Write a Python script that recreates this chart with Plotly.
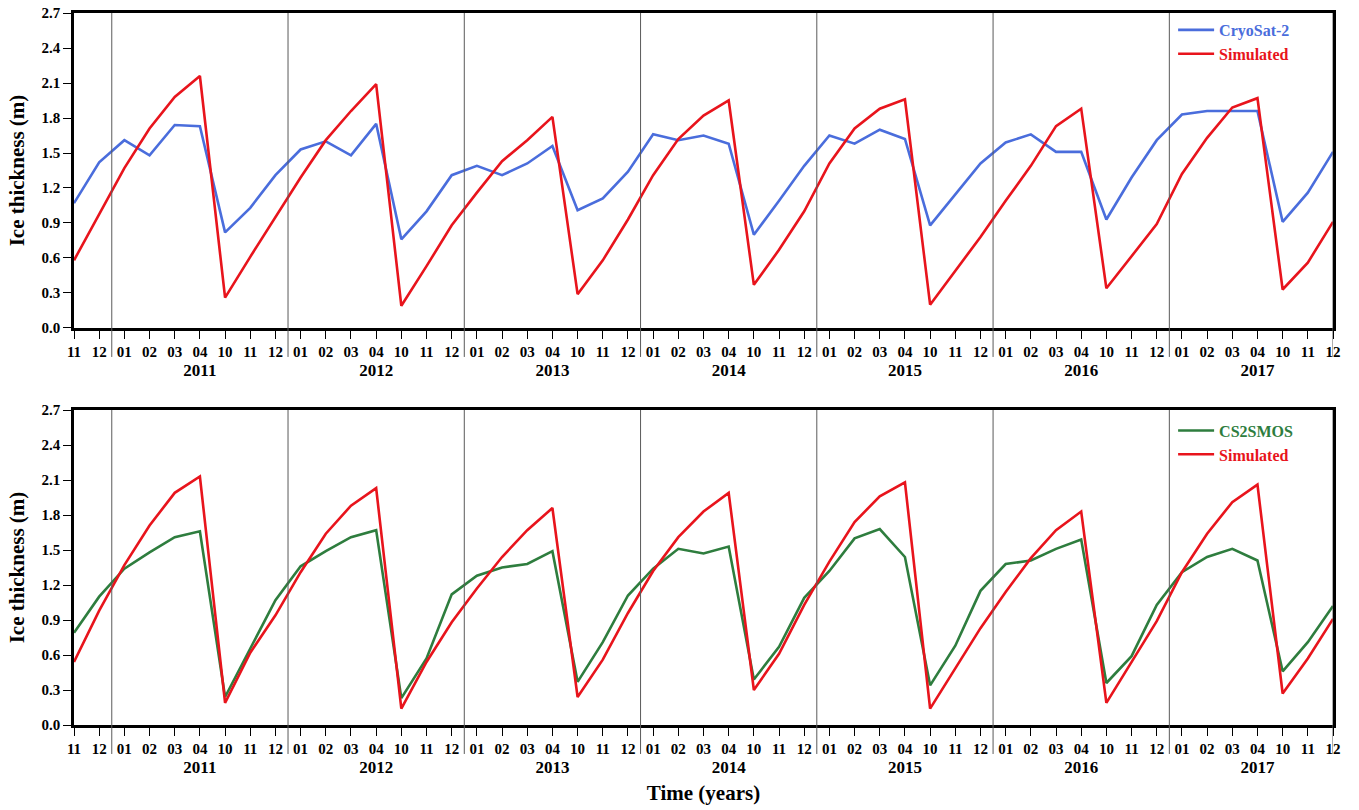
import plotly.graph_objects as go

# ---------------- data ----------------
season_months = ["01", "02", "03", "04", "10", "11", "12"]
years = ["2011", "2012", "2013", "2014", "2015", "2016", "2017"]
month_labels = ["11", "12"] + season_months * len(years)
year_of_point = ["2010", "2010"] + [y for y in years for _ in season_months]

cryosat2 = [1.07, 1.42, 1.61, 1.48, 1.74, 1.73, 0.82, 1.03, 1.31,
            1.53, 1.60, 1.48, 1.75, 0.76, 1.00, 1.31,
            1.39, 1.31, 1.41, 1.56, 1.01, 1.11, 1.34,
            1.66, 1.61, 1.65, 1.58, 0.80, 1.09, 1.39,
            1.65, 1.58, 1.70, 1.62, 0.88, 1.14, 1.41,
            1.59, 1.66, 1.51, 1.51, 0.93, 1.29, 1.61,
            1.83, 1.86, 1.86, 1.86, 0.91, 1.16, 1.51]

simulated_top = [0.58, 0.97, 1.37, 1.71, 1.98, 2.16, 0.26, 0.61, 0.95,
                 1.29, 1.61, 1.86, 2.09, 0.19, 0.53, 0.88,
                 1.16, 1.43, 1.61, 1.81, 0.29, 0.58, 0.93,
                 1.31, 1.62, 1.82, 1.95, 0.37, 0.67, 1.00,
                 1.41, 1.71, 1.88, 1.96, 0.20, 0.49, 0.78,
                 1.09, 1.39, 1.73, 1.88, 0.34, 0.62, 0.89,
                 1.32, 1.63, 1.89, 1.97, 0.33, 0.56, 0.91]

cs2smos = [0.79, 1.10, 1.34, 1.48, 1.61, 1.66, 0.24, 0.66, 1.07,
           1.36, 1.49, 1.61, 1.67, 0.23, 0.57, 1.12,
           1.28, 1.35, 1.38, 1.49, 0.37, 0.71, 1.11,
           1.34, 1.51, 1.47, 1.53, 0.39, 0.67, 1.09,
           1.32, 1.60, 1.68, 1.44, 0.34, 0.68, 1.15,
           1.38, 1.41, 1.51, 1.59, 0.36, 0.59, 1.03,
           1.31, 1.44, 1.51, 1.41, 0.46, 0.71, 1.02]

simulated_bottom = [0.54, 0.98, 1.37, 1.71, 1.99, 2.13, 0.19, 0.62, 0.94,
                    1.31, 1.64, 1.88, 2.03, 0.14, 0.54, 0.88,
                    1.17, 1.44, 1.67, 1.86, 0.24, 0.56, 0.96,
                    1.32, 1.61, 1.83, 1.99, 0.30, 0.61, 1.03,
                    1.40, 1.74, 1.96, 2.08, 0.14, 0.48, 0.83,
                    1.14, 1.43, 1.67, 1.83, 0.19, 0.54, 0.89,
                    1.31, 1.64, 1.91, 2.06, 0.27, 0.57, 0.91]

y_ticks = [0.0, 0.3, 0.6, 0.9, 1.2, 1.5, 1.8, 2.1, 2.4, 2.7]

# ---------------- styling ----------------
BLUE = "#4a6ddc"
RED = "#e8141c"
GREEN = "#2e7d3e"
FONT = "Liberation Serif"

x = list(range(len(month_labels)))
n = len(x)

# tick text: month, with year under the "04" month of each year
tick_text = []
for m, yr in zip(month_labels, year_of_point):
    if m == "04":
        tick_text.append(f"{m}<br><span style='font-size:17px'>{yr}</span>")
    else:
        tick_text.append(m)

fig = go.Figure()

def colored(name, color):
    return f"<span style='color:{color}'>{name}</span>"

fig.add_trace(go.Scatter(x=x, y=cryosat2, mode="lines", name=colored("CryoSat-2", BLUE),
                         line=dict(color=BLUE, width=2.6), xaxis="x", yaxis="y", legend="legend"))
fig.add_trace(go.Scatter(x=x, y=simulated_top, mode="lines", name=colored("Simulated", RED),
                         line=dict(color=RED, width=2.6), xaxis="x", yaxis="y", legend="legend"))
fig.add_trace(go.Scatter(x=x, y=cs2smos, mode="lines", name=colored("CS2SMOS", GREEN),
                         line=dict(color=GREEN, width=2.6), xaxis="x2", yaxis="y2", legend="legend2"))
fig.add_trace(go.Scatter(x=x, y=simulated_bottom, mode="lines", name=colored("Simulated", RED),
                         line=dict(color=RED, width=2.6), xaxis="x2", yaxis="y2", legend="legend2"))

# year separators (between "12" and the next "01")
shapes = []
for i in range(n):
    if month_labels[i] == "12":
        xs = min(i + 0.5, n - 1)
        for xr, yr in (("x", "y domain"), ("x2", "y2 domain")):
            shapes.append(dict(type="line", xref=xr, yref=yr, x0=xs, x1=xs, y0=-0.092, y1=1,
                               line=dict(color="#5a5a5a", width=1), layer="above"))

xaxis_common = dict(
    range=[0, n - 1], tickmode="array", tickvals=x, ticktext=tick_text,
    showline=True, linewidth=2.5, linecolor="black", mirror=True,
    ticks="outside", ticklen=8, tickwidth=1.3, tickcolor="black",
    tickfont=dict(family=FONT, size=15, color="black", weight="bold"),
    showgrid=False, zeroline=False, tickangle=0, automargin=False,
)
yaxis_common = dict(
    range=[0, 2.7], tickmode="array", tickvals=y_ticks, ticktext=[f"{v:.1f}" for v in y_ticks],
    showline=True, linewidth=2.5, linecolor="black", mirror=True,
    ticks="outside", ticklen=8, tickwidth=1.3, tickcolor="black",
    tickfont=dict(family=FONT, size=15, color="black", weight="bold"),
    showgrid=False, zeroline=False, automargin=False,
    title=dict(text="Ice thickness (m)", font=dict(family=FONT, size=21, color="black", weight="bold"), standoff=12),
)

fig.update_layout(
    width=1359, height=810,
    margin=dict(l=74, r=26, t=13, b=85),
    paper_bgcolor="white", plot_bgcolor="white",
    xaxis=dict(**xaxis_common, domain=[0, 1], anchor="y"),
    yaxis=dict(**yaxis_common, domain=[0.5576, 1], anchor="x"),
    xaxis2=dict(**xaxis_common, domain=[0, 1], anchor="y2",
                title=dict(text="Time (years)", font=dict(family=FONT, size=21, color="black", weight="bold"), standoff=10)),
    yaxis2=dict(**yaxis_common, domain=[0, 0.4424], anchor="x2"),
    shapes=shapes,
    legend=dict(x=0.873, y=1.0, xanchor="left", yanchor="top", bgcolor="rgba(0,0,0,0)",
                font=dict(family=FONT, size=16, weight="bold"), tracegroupgap=0, itemwidth=36),
    legend2=dict(x=0.873, y=0.4374, xanchor="left", yanchor="top", bgcolor="rgba(0,0,0,0)",
                 font=dict(family=FONT, size=16, weight="bold"), tracegroupgap=0, itemwidth=36),
    showlegend=True,
)

fig.write_html("out.html")
